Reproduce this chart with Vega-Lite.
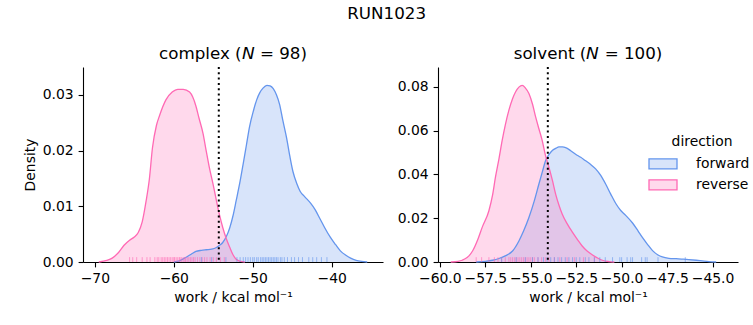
{
  "$schema": "https://vega.github.io/schema/vega-lite/v6.json",
  "padding": {"left": 23, "top": 5, "right": 0, "bottom": 0},
  "background": "white",
  "title": {"text": "RUN1023", "fontSize": 16.7, "font": "DejaVu Sans", "fontWeight": "normal", "color": "black", "anchor": "middle", "offset": 24},
  "config": {
    "font": "DejaVu Sans",
    "view": {"stroke": null},
    "title": {"fontSize": 16.7, "font": "DejaVu Sans", "fontWeight": "normal", "color": "black", "offset": 3},
    "axis": {"domainColor": "black", "domainWidth": 1.1, "tickColor": "black", "tickWidth": 1.1, "tickSize": 4.9, "labelPadding": 4.9, "labelFontSize": 13.9, "labelColor": "black", "labelFont": "DejaVu Sans", "titleFont": "DejaVu Sans", "titleFontSize": 13.9, "titleFontWeight": "normal", "titleColor": "black", "grid": false, "labelFlush": false, "labelOverlap": false, "labelBound": false, "titlePadding": 5, "zindex": 1},
    "legend": {"labelFont": "DejaVu Sans", "titleFont": "DejaVu Sans", "labelFontSize": 13.9, "titleFontSize": 13.9, "titleFontWeight": "normal", "labelColor": "black", "titleColor": "black"}
  },
  "datasets": {
    "complex_kde": [
      {"direction": "forward", "work": -60.0, "density": 0},
      {"direction": "forward", "work": -59.3, "density": 0.0002},
      {"direction": "forward", "work": -58.5, "density": 0.0008},
      {"direction": "forward", "work": -57.8, "density": 0.0014},
      {"direction": "forward", "work": -57.2, "density": 0.0019},
      {"direction": "forward", "work": -56.5, "density": 0.0021},
      {"direction": "forward", "work": -55.9, "density": 0.0022},
      {"direction": "forward", "work": -55.2, "density": 0.0023},
      {"direction": "forward", "work": -54.6, "density": 0.0026},
      {"direction": "forward", "work": -54.2, "density": 0.003},
      {"direction": "forward", "work": -53.8, "density": 0.0035},
      {"direction": "forward", "work": -53.3, "density": 0.0047},
      {"direction": "forward", "work": -52.9, "density": 0.0062},
      {"direction": "forward", "work": -52.5, "density": 0.0083},
      {"direction": "forward", "work": -52.1, "density": 0.011},
      {"direction": "forward", "work": -51.6, "density": 0.0145},
      {"direction": "forward", "work": -51.2, "density": 0.0177},
      {"direction": "forward", "work": -50.8, "density": 0.021},
      {"direction": "forward", "work": -50.4, "density": 0.0243},
      {"direction": "forward", "work": -49.9, "density": 0.0272},
      {"direction": "forward", "work": -49.5, "density": 0.0291},
      {"direction": "forward", "work": -49.1, "density": 0.0304},
      {"direction": "forward", "work": -48.7, "density": 0.0312},
      {"direction": "forward", "work": -48.2, "density": 0.0317},
      {"direction": "forward", "work": -47.8, "density": 0.0316},
      {"direction": "forward", "work": -47.4, "density": 0.0311},
      {"direction": "forward", "work": -47.0, "density": 0.03},
      {"direction": "forward", "work": -46.6, "density": 0.0283},
      {"direction": "forward", "work": -46.2, "density": 0.0255},
      {"direction": "forward", "work": -45.7, "density": 0.0222},
      {"direction": "forward", "work": -45.3, "density": 0.019},
      {"direction": "forward", "work": -44.9, "density": 0.0162},
      {"direction": "forward", "work": -44.4, "density": 0.014},
      {"direction": "forward", "work": -44.0, "density": 0.0127},
      {"direction": "forward", "work": -43.4, "density": 0.0117},
      {"direction": "forward", "work": -42.7, "density": 0.0106},
      {"direction": "forward", "work": -42.1, "density": 0.0094},
      {"direction": "forward", "work": -41.5, "density": 0.0078},
      {"direction": "forward", "work": -40.9, "density": 0.0062},
      {"direction": "forward", "work": -40.2, "density": 0.0045},
      {"direction": "forward", "work": -39.5, "density": 0.0031},
      {"direction": "forward", "work": -38.9, "density": 0.002},
      {"direction": "forward", "work": -38.2, "density": 0.0012},
      {"direction": "forward", "work": -37.6, "density": 0.0007},
      {"direction": "forward", "work": -36.9, "density": 0.0003},
      {"direction": "forward", "work": -36.2, "density": 0.0001},
      {"direction": "forward", "work": -35.5, "density": 0},
      {"direction": "reverse", "work": -69.5, "density": 0},
      {"direction": "reverse", "work": -68.5, "density": 0.0003},
      {"direction": "reverse", "work": -67.8, "density": 0.0007},
      {"direction": "reverse", "work": -67.0, "density": 0.0017},
      {"direction": "reverse", "work": -66.3, "density": 0.003},
      {"direction": "reverse", "work": -65.6, "density": 0.0039},
      {"direction": "reverse", "work": -65.0, "density": 0.0045},
      {"direction": "reverse", "work": -64.5, "density": 0.0053},
      {"direction": "reverse", "work": -64.0, "density": 0.0072},
      {"direction": "reverse", "work": -63.5, "density": 0.011},
      {"direction": "reverse", "work": -63.1, "density": 0.0148},
      {"direction": "reverse", "work": -62.7, "density": 0.0205},
      {"direction": "reverse", "work": -62.2, "density": 0.0245},
      {"direction": "reverse", "work": -61.8, "density": 0.0263},
      {"direction": "reverse", "work": -61.0, "density": 0.0291},
      {"direction": "reverse", "work": -60.2, "density": 0.0305},
      {"direction": "reverse", "work": -59.5, "density": 0.031},
      {"direction": "reverse", "work": -58.8, "density": 0.031},
      {"direction": "reverse", "work": -58.0, "density": 0.0305},
      {"direction": "reverse", "work": -57.6, "density": 0.0296},
      {"direction": "reverse", "work": -57.2, "density": 0.028},
      {"direction": "reverse", "work": -56.8, "density": 0.0258},
      {"direction": "reverse", "work": -56.3, "density": 0.0231},
      {"direction": "reverse", "work": -55.9, "density": 0.02},
      {"direction": "reverse", "work": -55.5, "density": 0.017},
      {"direction": "reverse", "work": -55.0, "density": 0.0138},
      {"direction": "reverse", "work": -54.6, "density": 0.011},
      {"direction": "reverse", "work": -54.2, "density": 0.0084},
      {"direction": "reverse", "work": -53.8, "density": 0.0062},
      {"direction": "reverse", "work": -53.3, "density": 0.004},
      {"direction": "reverse", "work": -52.9, "density": 0.0026},
      {"direction": "reverse", "work": -52.5, "density": 0.0013},
      {"direction": "reverse", "work": -52.1, "density": 0.0005},
      {"direction": "reverse", "work": -51.5, "density": 0.0001},
      {"direction": "reverse", "work": -51.0, "density": 0}
    ],
    "complex_rug": [
      {"direction": "reverse", "work": -65.6}, {"direction": "reverse", "work": -65.2}, {"direction": "reverse", "work": -64.7},
      {"direction": "reverse", "work": -64.0}, {"direction": "reverse", "work": -63.4}, {"direction": "reverse", "work": -63.0},
      {"direction": "reverse", "work": -62.4}, {"direction": "reverse", "work": -62.1}, {"direction": "reverse", "work": -61.9},
      {"direction": "reverse", "work": -61.6}, {"direction": "reverse", "work": -61.4}, {"direction": "reverse", "work": -61.2},
      {"direction": "reverse", "work": -61.0}, {"direction": "reverse", "work": -60.8}, {"direction": "reverse", "work": -60.6},
      {"direction": "reverse", "work": -60.4}, {"direction": "reverse", "work": -60.2}, {"direction": "reverse", "work": -60.0},
      {"direction": "reverse", "work": -59.9}, {"direction": "reverse", "work": -59.7}, {"direction": "reverse", "work": -59.5},
      {"direction": "reverse", "work": -59.3}, {"direction": "reverse", "work": -59.2}, {"direction": "reverse", "work": -59.0},
      {"direction": "reverse", "work": -58.8}, {"direction": "reverse", "work": -58.6}, {"direction": "reverse", "work": -58.5},
      {"direction": "reverse", "work": -58.3}, {"direction": "reverse", "work": -58.1}, {"direction": "reverse", "work": -57.9},
      {"direction": "reverse", "work": -57.7}, {"direction": "reverse", "work": -57.5}, {"direction": "reverse", "work": -57.3},
      {"direction": "reverse", "work": -57.0}, {"direction": "reverse", "work": -56.7}, {"direction": "reverse", "work": -56.4},
      {"direction": "reverse", "work": -56.1}, {"direction": "reverse", "work": -55.8}, {"direction": "reverse", "work": -55.4},
      {"direction": "reverse", "work": -55.0}, {"direction": "reverse", "work": -54.6}, {"direction": "reverse", "work": -54.1},
      {"direction": "reverse", "work": -53.6},
      {"direction": "forward", "work": -56.5}, {"direction": "forward", "work": -55.2}, {"direction": "forward", "work": -53.4},
      {"direction": "forward", "work": -52.0}, {"direction": "forward", "work": -51.6}, {"direction": "forward", "work": -51.2},
      {"direction": "forward", "work": -50.9}, {"direction": "forward", "work": -50.6}, {"direction": "forward", "work": -50.3},
      {"direction": "forward", "work": -50.0}, {"direction": "forward", "work": -49.8}, {"direction": "forward", "work": -49.5},
      {"direction": "forward", "work": -49.3}, {"direction": "forward", "work": -49.0}, {"direction": "forward", "work": -48.8},
      {"direction": "forward", "work": -48.6}, {"direction": "forward", "work": -48.4}, {"direction": "forward", "work": -48.2},
      {"direction": "forward", "work": -48.0}, {"direction": "forward", "work": -47.8}, {"direction": "forward", "work": -47.6},
      {"direction": "forward", "work": -47.4}, {"direction": "forward", "work": -47.2}, {"direction": "forward", "work": -47.0},
      {"direction": "forward", "work": -46.8}, {"direction": "forward", "work": -46.5}, {"direction": "forward", "work": -46.3},
      {"direction": "forward", "work": -46.0}, {"direction": "forward", "work": -45.6}, {"direction": "forward", "work": -45.1},
      {"direction": "forward", "work": -44.7}, {"direction": "forward", "work": -44.2}, {"direction": "forward", "work": -43.7},
      {"direction": "forward", "work": -42.9}, {"direction": "forward", "work": -42.4}, {"direction": "forward", "work": -41.9},
      {"direction": "forward", "work": -41.3}, {"direction": "forward", "work": -40.6}
    ],
    "solvent_kde": [
      {"direction": "forward", "work": -58.0, "density": 0},
      {"direction": "forward", "work": -57.5, "density": 0.0003},
      {"direction": "forward", "work": -57.1, "density": 0.0008},
      {"direction": "forward", "work": -56.75, "density": 0.0016},
      {"direction": "forward", "work": -56.4, "density": 0.0028},
      {"direction": "forward", "work": -56.0, "density": 0.005},
      {"direction": "forward", "work": -55.65, "density": 0.0096},
      {"direction": "forward", "work": -55.4, "density": 0.014},
      {"direction": "forward", "work": -55.1, "density": 0.0203},
      {"direction": "forward", "work": -54.8, "density": 0.028},
      {"direction": "forward", "work": -54.55, "density": 0.0356},
      {"direction": "forward", "work": -54.35, "density": 0.0415},
      {"direction": "forward", "work": -54.18, "density": 0.0463},
      {"direction": "forward", "work": -54.0, "density": 0.049},
      {"direction": "forward", "work": -53.8, "density": 0.051},
      {"direction": "forward", "work": -53.6, "density": 0.052},
      {"direction": "forward", "work": -53.45, "density": 0.0525},
      {"direction": "forward", "work": -53.25, "density": 0.0525},
      {"direction": "forward", "work": -53.08, "density": 0.0522},
      {"direction": "forward", "work": -52.8, "density": 0.0508},
      {"direction": "forward", "work": -52.53, "density": 0.0492},
      {"direction": "forward", "work": -52.25, "density": 0.0478},
      {"direction": "forward", "work": -52.0, "density": 0.0463},
      {"direction": "forward", "work": -51.7, "density": 0.0445},
      {"direction": "forward", "work": -51.43, "density": 0.0425},
      {"direction": "forward", "work": -51.15, "density": 0.0395},
      {"direction": "forward", "work": -50.88, "density": 0.0356},
      {"direction": "forward", "work": -50.6, "density": 0.031},
      {"direction": "forward", "work": -50.33, "density": 0.0268},
      {"direction": "forward", "work": -50.05, "density": 0.0235},
      {"direction": "forward", "work": -49.78, "density": 0.0213},
      {"direction": "forward", "work": -49.4, "density": 0.0178},
      {"direction": "forward", "work": -49.1, "density": 0.0142},
      {"direction": "forward", "work": -48.86, "density": 0.0112},
      {"direction": "forward", "work": -48.6, "density": 0.0083},
      {"direction": "forward", "work": -48.3, "density": 0.0052},
      {"direction": "forward", "work": -48.0, "density": 0.0032},
      {"direction": "forward", "work": -47.76, "density": 0.0023},
      {"direction": "forward", "work": -47.4, "density": 0.0017},
      {"direction": "forward", "work": -47.0, "density": 0.0015},
      {"direction": "forward", "work": -46.6, "density": 0.0013},
      {"direction": "forward", "work": -46.3, "density": 0.0011},
      {"direction": "forward", "work": -45.9, "density": 0.0008},
      {"direction": "forward", "work": -45.56, "density": 0.0005},
      {"direction": "forward", "work": -45.2, "density": 0.0002},
      {"direction": "forward", "work": -44.8, "density": 0},
      {"direction": "reverse", "work": -59.4, "density": 0},
      {"direction": "reverse", "work": -59.0, "density": 0.0003},
      {"direction": "reverse", "work": -58.77, "density": 0.0008},
      {"direction": "reverse", "work": -58.5, "density": 0.002},
      {"direction": "reverse", "work": -58.2, "density": 0.005},
      {"direction": "reverse", "work": -57.9, "density": 0.0105},
      {"direction": "reverse", "work": -57.67, "density": 0.0158},
      {"direction": "reverse", "work": -57.3, "density": 0.0234},
      {"direction": "reverse", "work": -57.1, "density": 0.0305},
      {"direction": "reverse", "work": -56.94, "density": 0.0387},
      {"direction": "reverse", "work": -56.75, "density": 0.047},
      {"direction": "reverse", "work": -56.57, "density": 0.0555},
      {"direction": "reverse", "work": -56.4, "density": 0.0625},
      {"direction": "reverse", "work": -56.2, "density": 0.0693},
      {"direction": "reverse", "work": -56.0, "density": 0.0745},
      {"direction": "reverse", "work": -55.83, "density": 0.0777},
      {"direction": "reverse", "work": -55.65, "density": 0.0798},
      {"direction": "reverse", "work": -55.47, "density": 0.0806},
      {"direction": "reverse", "work": -55.3, "density": 0.0795},
      {"direction": "reverse", "work": -55.1, "density": 0.0769},
      {"direction": "reverse", "work": -54.9, "density": 0.072},
      {"direction": "reverse", "work": -54.73, "density": 0.0662},
      {"direction": "reverse", "work": -54.55, "density": 0.0608},
      {"direction": "reverse", "work": -54.37, "density": 0.0555},
      {"direction": "reverse", "work": -54.2, "density": 0.049},
      {"direction": "reverse", "work": -54.0, "density": 0.0433},
      {"direction": "reverse", "work": -53.8, "density": 0.037},
      {"direction": "reverse", "work": -53.63, "density": 0.031},
      {"direction": "reverse", "work": -53.45, "density": 0.026},
      {"direction": "reverse", "work": -53.27, "density": 0.0219},
      {"direction": "reverse", "work": -53.0, "density": 0.0175},
      {"direction": "reverse", "work": -52.7, "density": 0.0135},
      {"direction": "reverse", "work": -52.4, "density": 0.0099},
      {"direction": "reverse", "work": -52.17, "density": 0.0073},
      {"direction": "reverse", "work": -51.9, "density": 0.005},
      {"direction": "reverse", "work": -51.6, "density": 0.0032},
      {"direction": "reverse", "work": -51.3, "density": 0.0017},
      {"direction": "reverse", "work": -51.06, "density": 0.0008},
      {"direction": "reverse", "work": -50.7, "density": 0.0002},
      {"direction": "reverse", "work": -50.4, "density": 0}
    ],
    "solvent_rug": [
      {"direction": "reverse", "work": -58.0}, {"direction": "reverse", "work": -57.7}, {"direction": "reverse", "work": -57.3},
      {"direction": "reverse", "work": -57.0}, {"direction": "reverse", "work": -56.8}, {"direction": "reverse", "work": -56.6},
      {"direction": "reverse", "work": -56.4}, {"direction": "reverse", "work": -56.2}, {"direction": "reverse", "work": -56.1},
      {"direction": "reverse", "work": -56.0}, {"direction": "reverse", "work": -55.9}, {"direction": "reverse", "work": -55.8},
      {"direction": "reverse", "work": -55.7}, {"direction": "reverse", "work": -55.6}, {"direction": "reverse", "work": -55.5},
      {"direction": "reverse", "work": -55.4}, {"direction": "reverse", "work": -55.3}, {"direction": "reverse", "work": -55.2},
      {"direction": "reverse", "work": -55.1}, {"direction": "reverse", "work": -55.0}, {"direction": "reverse", "work": -54.9},
      {"direction": "reverse", "work": -54.8}, {"direction": "reverse", "work": -54.6}, {"direction": "reverse", "work": -54.4},
      {"direction": "reverse", "work": -54.2}, {"direction": "reverse", "work": -54.0}, {"direction": "reverse", "work": -53.7},
      {"direction": "reverse", "work": -53.4}, {"direction": "reverse", "work": -53.0}, {"direction": "reverse", "work": -52.6},
      {"direction": "reverse", "work": -52.1}, {"direction": "reverse", "work": -51.5},
      {"direction": "forward", "work": -56.6}, {"direction": "forward", "work": -55.8}, {"direction": "forward", "work": -55.3},
      {"direction": "forward", "work": -54.9}, {"direction": "forward", "work": -54.6}, {"direction": "forward", "work": -54.3},
      {"direction": "forward", "work": -54.1}, {"direction": "forward", "work": -53.9}, {"direction": "forward", "work": -53.7},
      {"direction": "forward", "work": -53.5}, {"direction": "forward", "work": -53.3}, {"direction": "forward", "work": -53.1},
      {"direction": "forward", "work": -52.9}, {"direction": "forward", "work": -52.7}, {"direction": "forward", "work": -52.5},
      {"direction": "forward", "work": -52.3}, {"direction": "forward", "work": -52.0}, {"direction": "forward", "work": -51.8},
      {"direction": "forward", "work": -51.5}, {"direction": "forward", "work": -51.2}, {"direction": "forward", "work": -50.9},
      {"direction": "forward", "work": -50.5}, {"direction": "forward", "work": -50.1}, {"direction": "forward", "work": -50.0},
      {"direction": "forward", "work": -49.7}, {"direction": "forward", "work": -49.5}, {"direction": "forward", "work": -49.4},
      {"direction": "forward", "work": -48.9}, {"direction": "forward", "work": -48.7}, {"direction": "forward", "work": -48.6},
      {"direction": "forward", "work": -48.0}, {"direction": "forward", "work": -46.5}
    ]
  },
  "spacing": 14,
  "resolve": {
    "scale": {"x": "independent", "y": "independent", "fill": "independent", "stroke": "independent"},
    "legend": {"fill": "independent", "stroke": "independent"}
  },
  "hconcat": [
    {
      "width": 300,
      "height": 195,
      "title": {"text": "complex (𝘕 = 98)"},
      "layer": [
        {
          "data": {"name": "complex_kde"},
          "mark": {"type": "area", "fillOpacity": 0.25, "interpolate": "monotone"},
          "encoding": {
            "x": {"field": "work", "type": "quantitative", "scale": {"domain": [-71.5, -33.5], "nice": false, "zero": false}, "axis": {"values": [-70, -60, -50, -40], "format": "d", "title": "work / kcal mol⁻¹"}},
            "y": {"field": "density", "type": "quantitative", "stack": null, "scale": {"domain": [0, 0.035], "nice": false}, "axis": {"values": [0, 0.01, 0.02, 0.03], "format": ".2f", "title": "Density"}},
            "fill": {"field": "direction", "type": "nominal", "scale": {"domain": ["forward", "reverse"], "range": ["#6495ED", "#FF69B4"]}, "legend": null}
          }
        },
        {
          "data": {"name": "complex_kde"},
          "mark": {"type": "line", "strokeWidth": 1.3, "interpolate": "monotone"},
          "encoding": {
            "x": {"field": "work", "type": "quantitative"},
            "y": {"field": "density", "type": "quantitative"},
            "stroke": {"field": "direction", "type": "nominal", "scale": {"domain": ["forward", "reverse"], "range": ["#6495ED", "#FF69B4"]}, "legend": null}
          }
        },
        {
          "data": {"name": "complex_rug"},
          "mark": {"type": "rule", "strokeWidth": 1, "opacity": 0.6},
          "encoding": {
            "x": {"field": "work", "type": "quantitative"},
            "y": {"datum": 0},
            "y2": {"datum": 0.000875},
            "stroke": {"field": "direction", "type": "nominal", "legend": null}
          }
        },
        {
          "data": {"values": [{"work": -54.3}]},
          "mark": {"type": "rule", "color": "black", "strokeWidth": 2, "strokeDash": [2, 3.3]},
          "encoding": {"x": {"field": "work", "type": "quantitative"}}
        }
      ]
    },
    {
      "width": 300,
      "height": 195,
      "title": {"text": "solvent (𝘕 = 100)"},
      "layer": [
        {
          "data": {"name": "solvent_kde"},
          "mark": {"type": "area", "fillOpacity": 0.25, "interpolate": "monotone"},
          "encoding": {
            "x": {"field": "work", "type": "quantitative", "scale": {"domain": [-60.1, -43.6], "nice": false, "zero": false}, "axis": {"values": [-60, -57.5, -55, -52.5, -50, -47.5, -45], "format": ".1f", "title": "work / kcal mol⁻¹"}},
            "y": {"field": "density", "type": "quantitative", "stack": null, "scale": {"domain": [0, 0.089], "nice": false}, "axis": {"values": [0, 0.02, 0.04, 0.06, 0.08], "format": ".2f", "title": null}},
            "fill": {"field": "direction", "type": "nominal", "title": "direction", "scale": {"domain": ["forward", "reverse"], "range": ["#6495ED", "#FF69B4"]},
              "legend": {"orient": "none", "legendX": 217, "legendY": 68, "titleAnchor": "middle", "symbolType": "M-2,-0.714L2,-0.714L2,0.714L-2,0.714Z", "symbolSize": 196, "symbolStrokeWidth": 1.3, "labelOffset": 25, "rowPadding": 5, "titlePadding": 7,
                "encode": {"symbols": {"update": {"fillOpacity": {"value": 0.25}, "strokeOpacity": {"value": 1}}}}}}
          }
        },
        {
          "data": {"name": "solvent_kde"},
          "mark": {"type": "line", "strokeWidth": 1.3, "interpolate": "monotone"},
          "encoding": {
            "x": {"field": "work", "type": "quantitative"},
            "y": {"field": "density", "type": "quantitative"},
            "stroke": {"field": "direction", "type": "nominal", "title": "direction", "scale": {"domain": ["forward", "reverse"], "range": ["#6495ED", "#FF69B4"]}}
          }
        },
        {
          "data": {"name": "solvent_rug"},
          "mark": {"type": "rule", "strokeWidth": 1, "opacity": 0.6},
          "encoding": {
            "x": {"field": "work", "type": "quantitative"},
            "y": {"datum": 0},
            "y2": {"datum": 0.0022},
            "stroke": {"field": "direction", "type": "nominal", "title": "direction"}
          }
        },
        {
          "data": {"values": [{"work": -54.06}]},
          "mark": {"type": "rule", "color": "black", "strokeWidth": 2, "strokeDash": [2, 3.3]},
          "encoding": {"x": {"field": "work", "type": "quantitative"}}
        }
      ]
    }
  ]
}
